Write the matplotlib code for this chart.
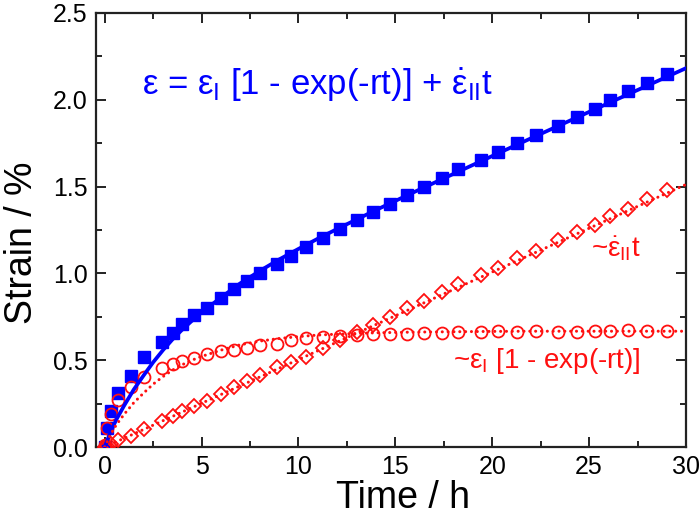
import matplotlib
matplotlib.use("Agg")
import matplotlib.pyplot as plt
from matplotlib.ticker import MultipleLocator

plt.rcParams['font.family'] = ['Liberation Sans', 'DejaVu Sans']
plt.rcParams['mathtext.fontset'] = 'custom'
plt.rcParams['mathtext.rm'] = 'Liberation Sans'
plt.rcParams['mathtext.it'] = 'Liberation Sans'
plt.rcParams['mathtext.default'] = 'regular'

# Measured creep strain (%) vs. time (h)
time_h = [0, 0.1, 0.3, 0.7, 1.35, 2.05, 2.95, 3.5, 4.0, 4.6, 5.3, 6.0, 6.65, 7.35,
          8.0, 8.9, 9.6, 10.4, 11.25, 12.15, 13.0, 13.85, 14.7, 15.6, 16.5, 17.4,
          18.25, 19.4, 20.3, 21.3, 22.25, 23.4, 24.4, 25.3, 26.1, 27.0, 28.0, 29.0]
strain_total = [0.0, 0.11, 0.21, 0.31, 0.41, 0.52, 0.605, 0.657, 0.707, 0.76, 0.80,
                0.856, 0.908, 0.956, 1.00, 1.057, 1.10, 1.151, 1.203, 1.253, 1.305,
                1.356, 1.40, 1.454, 1.50, 1.55, 1.60, 1.653, 1.697, 1.751, 1.797,
                1.851, 1.898, 1.947, 1.998, 2.048, 2.096, 2.148]
strain_transient = [0.01, 0.107, 0.19, 0.27, 0.347, 0.404, 0.458, 0.48, 0.494, 0.515,
                    0.534, 0.553, 0.561, 0.573, 0.586, 0.596, 0.615, 0.63, 0.634, 0.638,
                    0.644, 0.653, 0.653, 0.653, 0.657, 0.657, 0.661, 0.661, 0.667, 0.661,
                    0.667, 0.661, 0.661, 0.667, 0.670, 0.675, 0.670, 0.667]
strain_steady = [0.0, 0.005, 0.02, 0.04, 0.066, 0.105, 0.149, 0.177, 0.208, 0.238,
                 0.268, 0.304, 0.345, 0.383, 0.414, 0.461, 0.488, 0.521, 0.569, 0.615,
                 0.661, 0.703, 0.747, 0.801, 0.843, 0.893, 0.939, 0.992, 1.03, 1.09,
                 1.13, 1.19, 1.237, 1.28, 1.328, 1.373, 1.426, 1.481]

# Fitted curves
fit_t = [0, 0.3, 0.6, 1.0, 1.5, 2.0, 2.5, 3.0, 3.5, 4.0, 4.5, 5.0, 6.0, 7.0, 8.0,
         9.0, 10, 11, 12, 14, 16, 18, 20, 22, 25, 30]
fit_transient = [0, 0.072, 0.128, 0.188, 0.255, 0.31, 0.362, 0.405, 0.443, 0.474,
                 0.50, 0.522, 0.558, 0.589, 0.61, 0.625, 0.636, 0.645, 0.65, 0.658,
                 0.662, 0.664, 0.666, 0.667, 0.667, 0.667]
fit_total = [0, 0.087, 0.158, 0.238, 0.331, 0.411, 0.488, 0.557, 0.62, 0.676, 0.727,
             0.775, 0.861, 0.943, 1.014, 1.08, 1.141, 1.2, 1.256, 1.365, 1.47, 1.573,
             1.676, 1.778, 1.93, 2.182]
fit_steady_t = [0, 30]
fit_steady = [0, 1.512]

BLUE = '#0000ff'
RED = '#ff1010'

fig = plt.figure(figsize=(6.99, 5.18), dpi=100)
ax = fig.add_axes([0.1373, 0.137, 0.8441, 0.838])

dotted = dict(color=RED, lw=2.2, linestyle=(0, (0.01, 1.9)), dash_capstyle='round')

ax.plot(time_h, strain_total, 's', color=BLUE, ms=9.2, mec=BLUE, zorder=3)
ax.plot(fit_t, fit_total, '-', color=BLUE, lw=2.7, zorder=4)

ax.plot(time_h, strain_transient, 'o', mfc='none', mec=RED, ms=8.6, mew=1.3, zorder=3)
ax.plot(fit_t, fit_transient, **dotted, zorder=4)

ax.plot(time_h, strain_steady, 'D', mfc='none', mec=RED, ms=6.8, mew=1.3, zorder=3)
ax.plot(fit_steady_t, fit_steady, **dotted, zorder=4)

ax.set_xlim(-0.45, 30)
ax.set_ylim(0, 2.5)
ax.xaxis.set_major_locator(MultipleLocator(5))
ax.xaxis.set_minor_locator(MultipleLocator(2.5))
ax.yaxis.set_major_locator(MultipleLocator(0.5))
ax.yaxis.set_minor_locator(MultipleLocator(0.25))
ax.yaxis.set_major_formatter(plt.FormatStrFormatter('%.1f'))
ax.tick_params(which='both', direction='in', top=True, right=True,
               width=1.4, colors='#222222', labelsize=18, labelcolor='black')
ax.tick_params(which='major', length=7, pad=6)
ax.tick_params(which='minor', length=4.5)
for s in ax.spines.values():
    s.set_linewidth(1.6)
    s.set_color('#222222')

ax.set_xlabel('Time / h', fontsize=27)
ax.set_ylabel('Strain / %', fontsize=27)
ax.xaxis.set_label_coords(0.52, -0.075)
ax.yaxis.set_label_coords(-0.095, 0.47)

ax.text(1.9, 2.025, r'$\varepsilon$ = $\varepsilon_I$ [1 - exp(-rt)] + $\dot{\varepsilon}_{II}$t',
        color=BLUE, fontsize=25, ha='left', va='baseline')
ax.text(25.1, 1.095, r'~$\dot{\varepsilon}_{II}$t', color=RED, fontsize=20,
        ha='left', va='baseline')
ax.text(17.97, 0.455, r'~$\varepsilon_I$ [1 - exp(-rt)]', color=RED, fontsize=20,
        ha='left', va='baseline')

fig.savefig('out.png', dpi=100)
